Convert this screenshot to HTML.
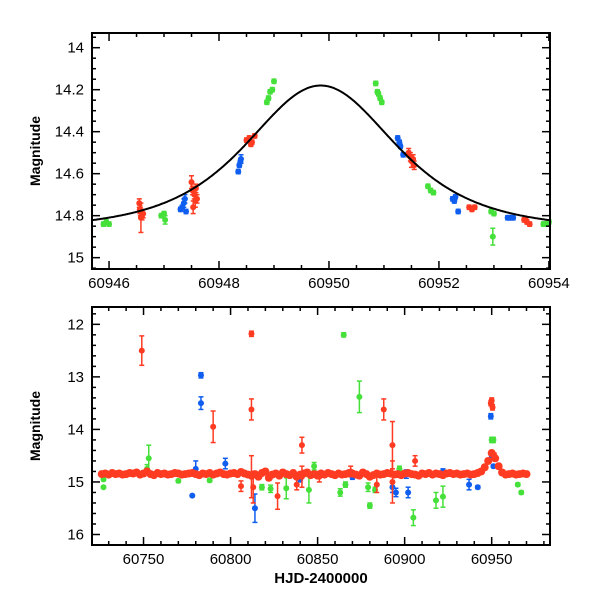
<!DOCTYPE html>
<html><head><meta charset="utf-8"><style>
body{margin:0;background:#fff}
svg text{font-family:"Liberation Sans",sans-serif}
</style></head><body>
<svg id="c" width="600" height="600" xmlns="http://www.w3.org/2000/svg"></svg>
<script>
// ---- top panel data (zoom on peak) ----
const topRedT=[60946.55,60946.57,60946.6,60946.58,60946.62,60946.56,60947.5,60947.52,60947.55,60947.57,60947.6,60947.53,60947.58,60948.5,60948.55,60948.6,60948.65,60948.58,60951.45,60951.48,60951.5,60951.53,60951.55,60952.55,60952.6,60952.65,60953.55,60953.6,60953.65,60953.58];
const topRedM=[14.74,14.78,14.8,14.81,14.79,14.77,14.64,14.68,14.7,14.73,14.72,14.76,14.67,14.44,14.43,14.45,14.42,14.46,14.5,14.52,14.54,14.53,14.56,14.76,14.77,14.76,14.82,14.83,14.84,14.82];
const topRedE=[0.02,0.02,0.02,0.07,0.02,0.02,0.03,0.02,0.02,0.03,0.02,0.03,0.02,0.01,0.01,0.01,0.01,0.01,0.02,0.02,0.03,0.02,0.02,0.01,0.01,0.01,0.01,0.01,0.01,0.01];
const topBlueT=[60947.3,60947.33,60947.36,60947.4,60947.38,60948.35,60948.37,60948.39,60948.4,60951.25,60951.28,60951.3,60951.35,60952.25,60952.28,60952.3,60952.35,60953.25,60953.3,60953.35];
const topBlueM=[14.77,14.76,14.74,14.78,14.72,14.59,14.56,14.54,14.53,14.43,14.45,14.47,14.51,14.72,14.73,14.71,14.78,14.81,14.81,14.81];
const topBlueE=[0.01,0.01,0.02,0.01,0.02,0.01,0.01,0.01,0.02,0.01,0.01,0.01,0.01,0.01,0.01,0.01,0.01,0.01,0.01,0.01];
const topGreenT=[60945.9,60945.95,60946.0,60946.95,60947.0,60947.02,60948.87,60948.9,60948.93,60948.97,60949.0,60950.85,60950.88,60950.9,60950.93,60950.96,60951.8,60951.85,60951.9,60952.95,60953.0,60952.98,60953.9,60953.95,60954.0];
const topGreenM=[14.84,14.83,14.84,14.8,14.79,14.82,14.26,14.24,14.21,14.2,14.16,14.17,14.21,14.22,14.24,14.26,14.66,14.68,14.69,14.78,14.79,14.9,14.84,14.84,14.83];
const topGreenE=[0.01,0.01,0.01,0.01,0.01,0.02,0.01,0.01,0.01,0.01,0.01,0.01,0.01,0.01,0.01,0.01,0.01,0.01,0.01,0.01,0.01,0.04,0.01,0.01,0.01];
const modelT0=60949.85, modelBase=14.87, modelAmp=0.69, modelW=2.5;
const topXTicks=[60946,60948,60950,60952,60954];
const topYTicks=[14,14.2,14.4,14.6,14.8,15];
// ---- bottom panel data (full season) ----
const baseRedStart=60726, baseRedStep=2;
const baseRedM=[14.85,14.84,14.86,14.83,14.85,14.84,14.86,14.85,14.83,14.84,
14.82,14.86,14.84,14.80,14.85,14.87,14.83,14.85,14.84,14.86,
14.85,14.83,14.84,14.86,14.85,14.84,14.83,14.85,14.87,14.84,
14.85,14.83,14.86,14.84,14.82,14.85,14.86,14.84,14.83,14.85,
14.81,14.84,14.86,14.88,14.85,14.90,14.83,14.80,14.92,14.86,
14.84,14.88,14.82,14.85,14.87,14.83,14.90,14.86,14.84,14.82,
14.87,14.85,14.88,14.84,14.86,14.83,14.85,14.87,14.84,14.86,
14.85,14.83,14.84,14.86,14.88,14.82,14.85,14.90,14.87,14.84,
14.86,14.85,14.83,14.84,14.86,14.85,14.87,14.84,14.83,14.85,
14.86,14.88,14.84,14.85,14.83,14.86,14.84,14.85,14.87,14.84,
14.83,14.85,14.84,14.86,14.85,14.84,14.86,14.85,14.83,14.80,
14.72,14.6,14.45,14.55,14.7,14.82,14.86,14.85,14.84,14.86,
14.85,14.84,14.85];
const bRedT=[60749,60790,60812,60812,60812,60813,60806,60827,60838,60841,60841,60888,60893,60893,60869,60906,60949.5,60950,60950.5,60951.5,60851,60884];
const bRedM=[12.5,13.95,12.18,13.62,14.9,15.1,15.08,15.27,15.05,14.3,14.9,13.62,14.3,15.0,14.8,14.6,13.5,13.45,13.58,14.5,14.9,15.05];
const bRedE=[0.28,0.3,0.05,0.2,0.4,0.3,0.1,0.25,0.1,0.15,0.2,0.2,0.45,0.4,0.1,0.1,0.05,0.05,0.05,0.05,0.1,0.15];
const bBlueT=[60778,60783,60783,60797,60814,60780,60893,60895,60902,60901,60922,60937,60942,60949.5,60950,60951,60840,60870];
const bBlueM=[15.26,12.97,13.5,14.65,15.5,14.75,15.1,15.2,15.2,14.85,14.8,15.05,15.1,13.75,14.5,14.7,14.95,14.9];
const bBlueE=[0.02,0.05,0.12,0.1,0.27,0.15,0.1,0.08,0.1,0.08,0.05,0.1,0.03,0.05,0.05,0.03,0.05,0.05];
const bGreenT=[60727,60727,60753,60752,60770,60788,60818,60823,60832,60845,60848,60865,60863,60874,60866,60880,60879,60883,60897,60905,60918,60922,60929,60950,60951,60965,60967];
const bGreenM=[15.1,14.95,14.55,14.75,14.98,14.97,15.1,15.13,15.12,15.15,14.7,12.2,15.2,13.38,15.05,15.45,15.1,15.15,14.75,15.68,15.35,15.28,14.85,14.2,14.2,15.05,15.2];
const bGreenE=[0.02,0.03,0.25,0.08,0.03,0.03,0.05,0.07,0.2,0.25,0.07,0.04,0.07,0.3,0.05,0.05,0.08,0.05,0.05,0.15,0.15,0.2,0.05,0.05,0.05,0.03,0.03];
const botXTicks=[60750,60800,60850,60900,60950];
const botYTicks=[12,13,14,15,16];

const NS="http://www.w3.org/2000/svg", svg=document.getElementById('c');
function el(tag,attrs,parent){const e=document.createElementNS(NS,tag);for(const k in attrs)e.setAttribute(k,attrs[k]);(parent||svg).appendChild(e);return e;}
const RED='#ff3b22',BLUE='#0f5ef0',GREEN='#45e03a';
function panel(P){
  const g=el('g',{});
  
  
  const X=t=>P.x0+(t-P.t0)/(P.t1-P.t0)*(P.x1-P.x0);
  const Y=m=>P.y0+(m-P.m0)/(P.m1-P.m0)*(P.y1-P.y0);
  P.X=X;P.Y=Y;P.g=g;
  return P;
}
function axes(P,xt,xmin,yt,ymin,xfmt,yfmt){
  const g=P.g;
  const fr=el('rect',{x:P.x0,y:P.y0,width:P.x1-P.x0,height:P.y1-P.y0,fill:'none',stroke:'#000','stroke-width':2},g);
  
  
  for(let v=Math.ceil(P.t0/xmin)*xmin;v<=P.t1+1e-9;v+=xmin){
    const x=P.X(v);const maj=xt.some(a=>Math.abs(a-v)<1e-6);const L=maj?8:4;
    el('line',{x1:x,x2:x,y1:P.y1,y2:P.y1-L,stroke:'#000','stroke-width':1.5},g);
    el('line',{x1:x,x2:x,y1:P.y0,y2:P.y0+L,stroke:'#000','stroke-width':1.5},g);
  }
  for(let v=Math.ceil(P.m0/ymin-1e-9)*ymin;v<=P.m1+1e-9;v+=ymin){
    const y=P.Y(v);const maj=yt.some(a=>Math.abs(a-v)<1e-6);const L=maj?8:4;
    el('line',{x1:P.x0,x2:P.x0+L,y1:y,y2:y,stroke:'#000','stroke-width':1.5},g);
    el('line',{x1:P.x1,x2:P.x1-L,y1:y,y2:y,stroke:'#000','stroke-width':1.5},g);
  }
  xt.forEach(v=>{const t=el('text',{x:P.X(v),y:P.y1+19,'text-anchor':'middle','font-size':15},g);t.textContent=xfmt(v);
    
    });
  yt.forEach(v=>{const t=el('text',{x:P.x0-8,y:P.Y(v)+5,'text-anchor':'end','font-size':15},g);t.textContent=yfmt(v);
    
    });
  const yl=el('text',{x:0,y:0,transform:`translate(${P.x0-52},${(P.y0+P.y1)/2}) rotate(-90)`,'text-anchor':'middle','font-size':14,'font-weight':'bold'},g);
  yl.textContent='Magnitude';
  
  
}
function pts(P,T,M,E,col,r,name){
  const g=el('g',{},P.g);
  
  
  for(let i=0;i<T.length;i++){
    const x=P.X(T[i]),y=P.Y(M[i]),e=(P.Y(M[i]+E[i])-y);
    el('line',{x1:x,x2:x,y1:y-e,y2:y+e,stroke:col,'stroke-width':1.5},g);
    el('line',{x1:x-2.5,x2:x+2.5,y1:y-e,y2:y-e,stroke:col,'stroke-width':1.5},g);
    el('line',{x1:x-2.5,x2:x+2.5,y1:y+e,y2:y+e,stroke:col,'stroke-width':1.5},g);
    const c=el('circle',{cx:x,cy:y,r:r,fill:col},g);
    
    
  }
}
// top
const A=panel({name:'zoom-panel',x0:92,x1:550,y0:33,y1:269,t0:60945.69,t1:60954.02,m0:13.93,m1:15.054});
const sq=(P,T,M,E,col,name)=>pts(P,T,M,E,col,3,name);
sq(A,topGreenT,topGreenM,topGreenE,GREEN,'green-series');
sq(A,topRedT,topRedM,topRedE,RED,'red-series');
sq(A,topBlueT,topBlueM,topBlueE,BLUE,'blue-series');
let d='';
for(let t=A.t0;t<=A.t1+1e-9;t+=0.02){const u=(t-modelT0)/modelW;const m=modelBase-modelAmp*Math.pow(1+u*u,-2);d+=(d?'L':'M')+A.X(t).toFixed(1)+','+A.Y(m).toFixed(1);}
const mp=el('path',{d:d,fill:'none',stroke:'#000','stroke-width':2},A.g);


axes(A,topXTicks,0.5,topYTicks,0.05,v=>String(v),v=>String(+v.toFixed(1)));
// bottom
const B=panel({name:'season-panel',x0:92,x1:550,y0:307,y1:545,t0:60720.4,t1:60983.5,m0:11.67,m1:16.2});
const baseT=baseRedM.map((_,i)=>baseRedStart+i*baseRedStep);
const baseE=baseRedM.map((_,i)=>0.05);
pts(B,bGreenT,bGreenM,bGreenE,GREEN,3,'green-series');
pts(B,bBlueT,bBlueM,bBlueE,BLUE,3,'blue-series');
pts(B,baseT,baseRedM,baseE,RED,4,'red-baseline');
pts(B,bRedT,bRedM,bRedE,RED,3,'red-series');
axes(B,botXTicks,10,botYTicks,0.2,v=>String(v),v=>String(v));
const xl=el('text',{x:321,y:583,'text-anchor':'middle','font-size':15,'font-weight':'bold','font-family':'Liberation Mono, monospace'},B.g);
xl.textContent='HJD-2400000';


</script>
</body></html>
